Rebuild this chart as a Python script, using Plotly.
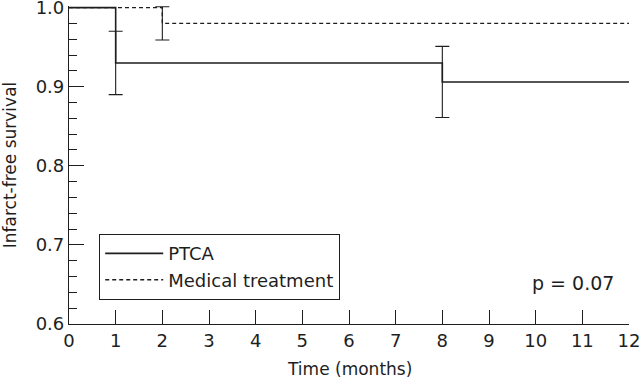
import plotly.graph_objects as go

# Data
ptca_time = [0, 1, 8, 12]
ptca_surv = [1.0, 0.93, 0.906, 0.906]
ptca_err_time = [1, 8]
ptca_err_val = [0.93, 0.906]
ptca_err = [0.04, 0.045]

med_time = [0, 2, 12]
med_surv = [1.0, 0.98, 0.98]
med_err_time = [2]
med_err_val = [0.98]
med_err = [0.021]

x_ticks = list(range(0, 13))
y_ticks = [0.6, 0.7, 0.8, 0.9, 1.0]
y_ticktext = ["0.6", "0.7", "0.8", "0.9", "1.0"]
p_text = "p = 0.07"
x_title = "Time (months)"
y_title = "Infarct-free survival"

INK = "#1e1e1e"
FONT = "DejaVu Sans"

fig = go.Figure()

fig.add_trace(go.Scatter(
    x=med_time, y=med_surv, mode="lines", line_shape="hv",
    line=dict(color=INK, width=1.4, dash="4px,3px"),
    name="Medical treatment", showlegend=False,
))
fig.add_trace(go.Scatter(
    x=ptca_time, y=ptca_surv, mode="lines", line_shape="hv",
    line=dict(color=INK, width=1.6),
    name="PTCA",
))
fig.add_trace(go.Scatter(
    x=[None], y=[None], mode="lines",
    line=dict(color=INK, width=1.4, dash="4px,3px"),
    name="Medical treatment",
))
fig.add_trace(go.Scatter(
    x=ptca_err_time, y=ptca_err_val, mode="markers",
    marker=dict(size=1, color="rgba(0,0,0,0)"),
    error_y=dict(type="data", array=ptca_err, color=INK, thickness=1.1, width=7),
    showlegend=False, hoverinfo="skip",
))
fig.add_trace(go.Scatter(
    x=med_err_time, y=med_err_val, mode="markers",
    marker=dict(size=1, color="rgba(0,0,0,0)"),
    error_y=dict(type="data", array=med_err, color=INK, thickness=1.1, width=7),
    showlegend=False, hoverinfo="skip",
))

fig.add_annotation(
    x=10.79, y=0.652, xref="x", yref="y", text=p_text, showarrow=False,
    xanchor="center", yanchor="middle", font=dict(family=FONT, size=19, color=INK),
)
fig.add_annotation(
    x=0.5, y=-0.1415, xref="paper", yref="paper", text=x_title, showarrow=False,
    xanchor="center", yanchor="middle", font=dict(family=FONT, size=17, color=INK),
)
fig.add_annotation(
    x=-0.105, y=0.5, xref="paper", yref="paper", text=y_title, showarrow=False,
    textangle=-90, xanchor="center", yanchor="middle",
    font=dict(family=FONT, size=17, color=INK),
)

fig.update_layout(
    width=640, height=382,
    margin=dict(l=69, r=11, t=6, b=58),
    paper_bgcolor="white", plot_bgcolor="white",
    font=dict(family=FONT, size=18, color=INK),
    showlegend=True,
    legend=dict(
        x=0.0536, y=0.283, xanchor="left", yanchor="top",
        bordercolor=INK, borderwidth=1.2, bgcolor="white",
        font=dict(family=FONT, size=18, color=INK),
        itemwidth=58, tracegroupgap=0,
    ),
    xaxis=dict(
        range=[0, 12], tickvals=x_ticks, ticks="inside", ticklen=14,
        tickwidth=1.1, tickcolor=INK, showline=True, linecolor=INK, linewidth=1.2,
        showgrid=False, zeroline=False, automargin=False,
        ticklabeloverflow="allow", tickfont=dict(size=18),
    ),
    yaxis=dict(
        range=[0.6, 1.002], tickvals=y_ticks, ticktext=y_ticktext,
        ticks="inside", ticklen=15, tickwidth=1.1, tickcolor=INK,
        minor=dict(dtick=0.02, tick0=0.6, ticks="inside", ticklen=8, tickwidth=1.1, tickcolor=INK, showgrid=False),
        showline=True, linecolor=INK, linewidth=1.2,
        showgrid=False, zeroline=False, automargin=False,
        ticklabeloverflow="allow", tickfont=dict(size=18),
    ),
)

fig.write_html("out.html", config={"displayModeBar": False},
               post_script="document.body.style.margin='0';")
